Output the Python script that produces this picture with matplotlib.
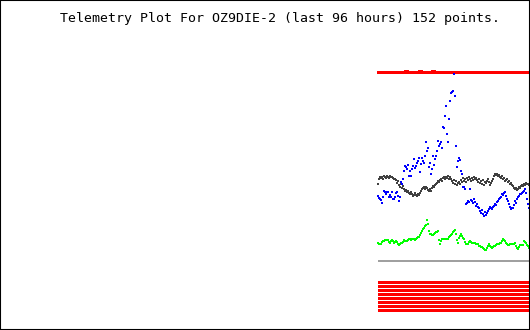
import matplotlib
matplotlib.use("Agg")
import matplotlib.pyplot as plt

title = "Telemetry Plot For OZ9DIE-2 (last 96 hours) 152 points."

# readings per sample (152 samples), plotted on an inverted level scale
red_top = [72] * 29 + [71] + [72] * 13 + [71] + [72] * 12 + [71] + [72] * 95

blue = [195, 197, 198, 199, 202, 196, 190, 191, 193, 191, 191, 196, 194, 196, 191, 198, 198, 196, 192, 191,
        195, 200, 196, 181, 183, 178, 170, 165, 166, 168, 164, 175, 170, 175, 168, 165, 158, 167, 165, 162,
        160, 157, 171, 163, 157, 160, 162, 155, 141, 150, 147, 166, 162, 173, 168, 155, 164, 158, 155, 150,
        140, 145, 143, 141, 147, 126, 127, 115, 105, 133, 141, 118, 100, 92, 91, 90, 73, 95, 145, 166,
        160, 157, 159, 170, 173, 186, 186, 188, 203, 202, 200, 201, 188, 199, 200, 202, 198, 201, 205, 203,
        206, 207, 210, 212, 209, 213, 215, 211, 214, 212, 210, 208, 206, 207, 208, 206, 205, 203, 204, 201,
        200, 198, 197, 196, 193, 194, 192, 191, 195, 198, 200, 203, 206, 208, 207, 207, 204, 200, 202, 198,
        196, 195, 193, 193, 192, 191, 190, 188, 192, 198, 203, 207]

black = [183, 178, 176, 177, 176, 178, 175, 176, 177, 175, 176, 177, 175, 176, 176, 177, 178, 178, 179, 182,
         180, 184, 186, 183, 187, 185, 188, 190, 189, 191, 190, 192, 193, 191, 193, 195, 194, 192, 194, 195,
         193, 194, 192, 190, 188, 187, 186, 188, 186, 187, 189, 190, 188, 190, 187, 185, 186, 184, 183, 182,
         180, 181, 179, 178, 180, 177, 176, 178, 176, 177, 175, 178, 176, 178, 180, 182, 179, 183, 180, 184,
         182, 181, 183, 179, 181, 177, 180, 178, 181, 177, 179, 176, 178, 180, 177, 179, 176, 178, 177, 179,
         181, 178, 182, 180, 183, 179, 184, 181, 182, 180, 178, 181, 184, 182, 180, 178, 175, 173, 174, 173,
         175, 174, 176, 177, 175, 178, 177, 180, 179, 178, 181, 180, 183, 182, 184, 185, 187, 188, 187, 189,
         188, 186, 187, 185, 184, 185, 183, 184, 182, 183, 183, 184]

green = [242, 243, 243, 243, 241, 240, 240, 239, 239, 239, 239, 241, 242, 240, 239, 240, 242, 241, 240, 241,
         243, 244, 243, 242, 242, 241, 239, 240, 240, 240, 239, 238, 238, 239, 238, 238, 238, 239, 238, 237,
         236, 236, 234, 232, 230, 228, 227, 225, 224, 219, 223, 230, 233, 233, 234, 234, 233, 232, 231, 231,
         230, 239, 243, 240, 238, 238, 238, 238, 238, 238, 238, 236, 235, 234, 233, 231, 230, 229, 233, 239,
         242, 237, 235, 233, 235, 237, 238, 241, 243, 243, 243, 241, 240, 241, 242, 242, 242, 242, 243, 243,
         243, 245, 245, 246, 246, 247, 248, 249, 249, 247, 245, 243, 245, 246, 247, 246, 245, 245, 244, 243,
         243, 243, 242, 242, 240, 238, 239, 240, 242, 243, 244, 244, 243, 243, 243, 243, 243, 242, 245, 247,
         248, 246, 244, 244, 244, 244, 240, 241, 242, 244, 245, 247]

gray_level = [260.5] * 152
bit_levels = [281, 285, 289, 293, 297, 301, 305, 309]
bits = [[1] * 152 for _ in bit_levels]

n = len(blue)
xs = list(range(n))

fig = plt.figure(figsize=(5.3, 3.3), dpi=100)
ax = fig.add_axes([0, 0, 1, 1])
ax.set_xlim(-377.5, 152.5)
ax.set_ylim(329.5, -0.5)
ax.set_xticks([])
ax.set_yticks([])
for s in ax.spines.values():
    s.set_linewidth(1.5)
    s.set_color("black")

px = 0.72  # one pixel in points

ax.plot(xs, red_top, color="#ff0000", lw=3 * px, solid_capstyle="butt", antialiased=False)
ax.plot(xs, gray_level, color="#a0a0a0", lw=2 * px, solid_capstyle="butt", antialiased=False)
for lvl, b in zip(bit_levels, bits):
    ax.plot(xs, [lvl * v for v in b], color="#ff0000", lw=3 * px, solid_capstyle="butt",
            antialiased=False)

ax.plot(xs, black, ls="none", marker="s", ms=2 * px, mew=0, color="#404040")
ax.plot(xs, blue, ls="none", marker="s", ms=2 * px, mew=0, color="#0000ff")
ax.plot(xs, green, ls="none", marker="s", ms=2 * px, mew=0, color="#00ff00")

fig.text(60 / 530, 1 - 22 / 330, title, family="DejaVu Sans Mono", fontsize=9.5,
         ha="left", va="baseline", color="black")

fig.savefig("out.png", dpi=100)
